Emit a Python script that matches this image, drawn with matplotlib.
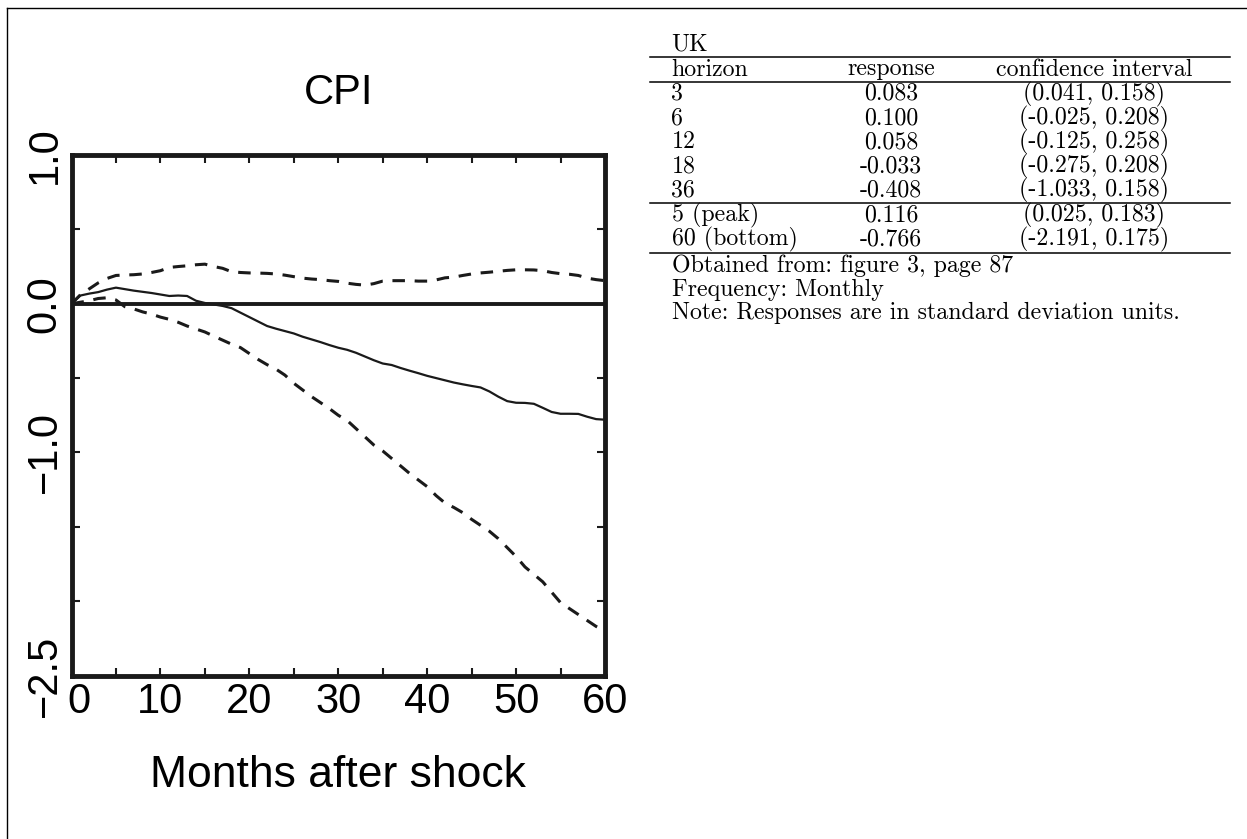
import numpy as np
import matplotlib
matplotlib.use('Agg')
import matplotlib.pyplot as plt
import matplotlib.transforms as mtransforms
from matplotlib.lines import Line2D

# impulse response of CPI (UK)
months = np.arange(0, 61)
irf = [0.0, 0.055, 0.068, 0.078, 0.095, 0.108, 0.098, 0.088, 0.080, 0.072,
       0.062, 0.052, 0.055, 0.052, 0.020, 0.005, -0.005, -0.015, -0.030, -0.060,
       -0.090, -0.120, -0.150, -0.168, -0.184, -0.200, -0.222, -0.240, -0.258, -0.278,
       -0.296, -0.310, -0.330, -0.355, -0.380, -0.402, -0.412, -0.432, -0.450, -0.467,
       -0.485, -0.500, -0.515, -0.530, -0.542, -0.553, -0.563, -0.590, -0.625, -0.655,
       -0.666, -0.667, -0.673, -0.700, -0.728, -0.740, -0.740, -0.741, -0.760, -0.776,
       -0.780]
lower = [0.0, 0.010, 0.020, 0.035, 0.040, 0.025, -0.020, -0.035, -0.055, -0.070,
         -0.090, -0.105, -0.125, -0.150, -0.170, -0.190, -0.218, -0.245, -0.272, -0.295,
         -0.335, -0.375, -0.410, -0.440, -0.480, -0.535, -0.580, -0.625, -0.665, -0.705,
         -0.750, -0.785, -0.840, -0.895, -0.950, -0.990, -1.040, -1.090, -1.140, -1.185,
         -1.230, -1.290, -1.340, -1.370, -1.405, -1.450, -1.490, -1.530, -1.580, -1.640,
         -1.700, -1.770, -1.820, -1.870, -1.940, -2.010, -2.050, -2.090, -2.130, -2.170,
         -2.200]
upper = [0.0, 0.060, 0.100, 0.140, 0.170, 0.190, 0.193, 0.195, 0.200, 0.210,
         0.222, 0.244, 0.250, 0.255, 0.262, 0.266, 0.250, 0.238, 0.215, 0.210,
         0.207, 0.206, 0.204, 0.200, 0.192, 0.182, 0.172, 0.166, 0.162, 0.155,
         0.150, 0.138, 0.130, 0.125, 0.135, 0.152, 0.155, 0.155, 0.155, 0.152,
         0.152, 0.160, 0.174, 0.179, 0.190, 0.200, 0.207, 0.212, 0.218, 0.224,
         0.228, 0.228, 0.227, 0.222, 0.210, 0.202, 0.198, 0.190, 0.172, 0.162,
         0.155]

xticks = list(range(0, 61, 5))
xtick_labels = ['0', '', '10', '', '20', '', '30', '', '40', '', '50', '', '60']
yticks = [1.0, 0.5, 0.0, -0.5, -1.0, -1.5, -2.0, -2.5]
ytick_labels = ['1.0', '', '0.0', '', '\u22121.0', '', '', '\u22122.5']

# table on the right
country = 'UK'
col_names = ['horizon', 'response', 'confidence interval']
horizons = ['3', '6', '12', '18', '36', '5 (peak)', '60 (bottom)']
responses = [0.083, 0.100, 0.058, -0.033, -0.408, 0.116, -0.766]
ci_low = [0.041, -0.025, -0.125, -0.275, -1.033, 0.025, -2.191]
ci_high = [0.158, 0.208, 0.258, 0.208, 0.158, 0.183, 0.175]
notes = ['Obtained from: figure 3, page 87',
         'Frequency: Monthly',
         'Note: Responses are in standard deviation units.']

W, H = 1247, 839
plt.rcParams['font.family'] = ['Liberation Sans', 'DejaVu Sans']
plt.rcParams['lines.scale_dashes'] = False

fig = plt.figure(figsize=(W / 100, H / 100), dpi=100)


def fx(px):
    return px / W


def fy(py):
    return 1 - py / H


ax = fig.add_axes([fx(71.5), fy(675.5), fx(605) - fx(71.5), fy(155) - fy(675.5)])

dash = (0, (9, 7))
ax.plot(months, upper, color='#1a1a1a', lw=2.2, linestyle=dash)
ax.plot(months, lower, color='#1a1a1a', lw=2.2, linestyle=dash)
ax.plot(months, irf, color='#1a1a1a', lw=1.6)
ax.axhline(0, color='#1a1a1a', lw=2.8)

ax.set_xlim(0, 60)
ax.set_ylim(-2.5, 1.0)
ax.set_xticks(xticks)
ax.set_xticklabels(xtick_labels, fontsize=30)
ax.set_yticks(yticks)
ax.set_yticklabels(ytick_labels, fontsize=30, rotation=90, va='center')
ax.tick_params(direction='in', top=True, right=True, length=6, width=1.5,
               color='#1a1a1a')
ax.tick_params(axis='x', pad=5)
ax.tick_params(axis='y', pad=5)
for s in ax.spines.values():
    s.set_linewidth(3.5)
    s.set_color('#1a1a1a')

# the "0" label sits a little right of its tick, clear of the "-2.5"
first = ax.get_xticklabels()[0]
first.set_transform(first.get_transform() +
                    mtransforms.ScaledTranslation(5 / 72, 0, fig.dpi_scale_trans))

ax.set_title('CPI', fontsize=30, pad=37)
ax.set_xlabel('Months after shock', fontsize=32)
ax.xaxis.set_label_coords(0.5, -0.153)

# outer frame (top and left edges only)
fig.add_artist(Line2D([fx(7), 1], [fy(8), fy(8)], color='black', lw=1.0))
fig.add_artist(Line2D([fx(7), fx(7)], [fy(8), 0], color='black', lw=1.0))

# table
tfont = dict(family='cmr10', fontsize=17.2, va='baseline', color='black')
x_left, x_resp, x_ci = 671.5, 891, 1094
fig.text(fx(x_left), fy(50.7), country, ha='left', **tfont)
fig.text(fx(x_left), fy(75.5), col_names[0], ha='left', **tfont)
fig.text(fx(x_resp), fy(75.5), col_names[1], ha='center', **tfont)
fig.text(fx(x_ci), fy(75.5), col_names[2], ha='center', **tfont)

row_y = [100, 124.3, 148.3, 172.3, 196.3, 221, 245]
for yb, h, r, lo, hi in zip(row_y, horizons, responses, ci_low, ci_high):
    fig.text(fx(x_left), fy(yb), h, ha='left', **tfont)
    fig.text(fx(x_resp), fy(yb), f'{r:.3f}', ha='center', **tfont)
    fig.text(fx(x_ci), fy(yb), f'({lo:.3f}, {hi:.3f})', ha='center', **tfont)

for yr in [57.3, 82.3, 203.3, 252.7]:
    fig.add_artist(Line2D([fx(650), fx(1230)], [fy(yr), fy(yr)], color='black', lw=1.1))

for yb, n in zip([271.7, 295.7, 319.3], notes):
    fig.text(fx(x_left), fy(yb), n, ha='left', **tfont)

fig.savefig('out.png', dpi=100)
